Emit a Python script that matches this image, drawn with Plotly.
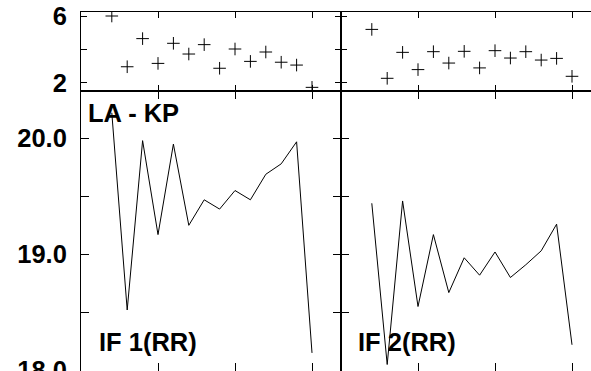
import plotly.graph_objects as go

x_vals = list(range(2, 16))
top_if1 = [6.0, 2.97, 4.65, 3.17, 4.37, 3.73, 4.29, 2.88, 4.03, 3.29, 3.85, 3.24, 3.07, 1.74]
top_if2 = [5.2, 2.28, 3.83, 2.80, 3.87, 3.19, 3.89, 2.90, 3.93, 3.49, 3.87, 3.37, 3.47, 2.40]
bot_if1 = [20.22, 18.52, 19.98, 19.17, 19.95, 19.25, 19.47, 19.39, 19.55, 19.47, 19.69, 19.78, 19.97, 18.15]
bot_if2 = [19.44, 18.05, 19.46, 18.55, 19.17, 18.67, 18.97, 18.82, 19.02, 18.80, 18.91, 19.03, 19.26, 18.22]

x_ticks = [5, 10, 15]
top_yticks = [2, 4, 6]
top_ytext = ["2", "", "6"]
bot_yticks = [18.0, 18.5, 19.0, 19.5, 20.0]
bot_ytext = ["18.0", "", "19.0", "", "20.0"]
panel_labels = ["LA - KP", "IF 1(RR)", "IF 2(RR)"]

FONT = "Liberation Sans, Arial, sans-serif"
PAGE_W, PAGE_H = 591, 371
W, H = PAGE_W, PAGE_H
# page-pixel layout
LEFT, MID, TOP, HSPLIT, BOTTOM = 81, 341, 12, 91, 371
ML, MT = LEFT, TOP
split_x = (MID - LEFT) / (PAGE_W - LEFT)
split_y = (BOTTOM - HSPLIT) / (BOTTOM - TOP)

fig = go.Figure()
mk = dict(symbol="cross-thin-open", size=9, line=dict(width=1, color="black"), color="black")
fig.add_trace(go.Scatter(x=x_vals, y=top_if1, mode="markers", marker=mk, xaxis="x", yaxis="y"))
fig.add_trace(go.Scatter(x=x_vals, y=top_if2, mode="markers", marker=mk, xaxis="x2", yaxis="y2"))
fig.add_trace(go.Scatter(x=x_vals, y=bot_if1, mode="lines", line=dict(color="black", width=1), xaxis="x3", yaxis="y3"))
fig.add_trace(go.Scatter(x=x_vals, y=bot_if2, mode="lines", line=dict(color="black", width=1), xaxis="x4", yaxis="y4"))

tickfont = dict(family=FONT, size=25.5, color="black", weight="bold")
common_x = dict(showline=True, linecolor="black", linewidth=1, ticks="inside", tickcolor="black",
                tickvals=x_ticks, showticklabels=False, showgrid=False, zeroline=False, mirror="ticks",
                automargin=False)
common_y = dict(showline=True, linecolor="black", linewidth=1, ticks="inside", tickcolor="black",
                showgrid=False, zeroline=False, tickfont=tickfont, ticklabelstandoff=8,
                ticklabeloverflow="allow", automargin=False)

L_range = [0, (MID - LEFT) / 15.4]
R_range = [0, (PAGE_W - MID) / 15.4]
top_range = [1.522, 6.239]
bot_range = [17.994, 20.408]

fig.update_layout(
    width=W, height=H,
    margin=dict(l=ML, r=0, t=MT, b=0, autoexpand=False),
    paper_bgcolor="white", plot_bgcolor="white",
    showlegend=False,
    xaxis=dict(domain=[0, split_x], range=L_range, anchor="y", ticklen=6, **common_x),
    yaxis=dict(domain=[split_y, 1], range=top_range, anchor="x", tickvals=top_yticks, ticktext=top_ytext,
               ticklen=6, mirror="ticks", **common_y),
    xaxis2=dict(domain=[split_x, 1], range=R_range, anchor="y2", ticklen=6, **common_x),
    yaxis2=dict(domain=[split_y, 1], range=top_range, anchor="x2", tickvals=top_yticks,
                showticklabels=False, ticklen=6, mirror=False, **common_y),
    xaxis3=dict(domain=[0, split_x], range=L_range, anchor="y3", ticklen=8, **common_x),
    yaxis3=dict(domain=[0, split_y], range=bot_range, anchor="x3", tickvals=bot_yticks, ticktext=bot_ytext,
                ticklen=8, mirror="ticks", **common_y),
    xaxis4=dict(domain=[split_x, 1], range=R_range, anchor="y4", ticklen=8, **common_x),
    yaxis4=dict(domain=[0, split_y], range=bot_range, anchor="x4", tickvals=bot_yticks,
                showticklabels=False, ticklen=8, mirror=False, **common_y),
)

lab_font = dict(family=FONT, size=25.5, color="black", weight="bold")
ann_pos = [(87, 113), (98, 342), (357, 342)]
for txt, (px, py) in zip(panel_labels, ann_pos):
    fig.add_annotation(text=txt, x=(px - LEFT) / (PAGE_W - LEFT), y=(BOTTOM - py) / (BOTTOM - TOP),
                       xref="paper", yref="paper", xanchor="left", yanchor="middle",
                       showarrow=False, font=lab_font, borderpad=0)

fig.write_html("out.html", config={"displayModeBar": False},
               post_script="document.body.style.margin='0px';")
